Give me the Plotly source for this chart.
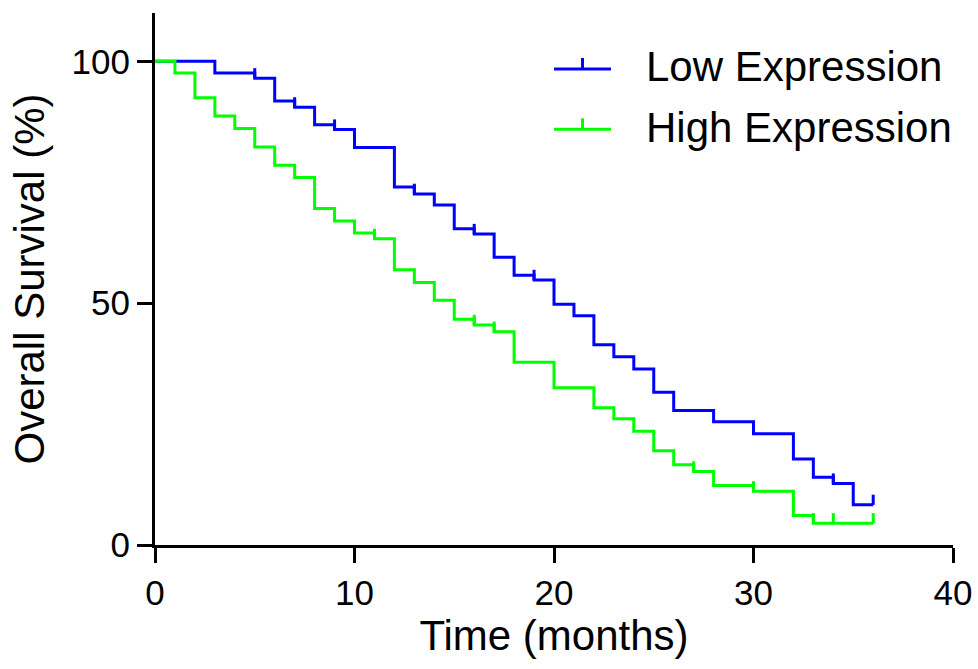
import plotly.graph_objects as go

# ---- data ----
low_times = [0, 3, 5, 6, 7, 8, 9, 10, 12, 13, 14, 15, 16, 17, 18, 19, 20, 21, 22, 23, 24, 25, 26, 28, 30, 32, 33, 34, 35, 36]
low_surv = [100, 97.6, 96.5, 91.8, 90.5, 86.9, 85.9, 82.2, 74.0, 72.6, 70.3, 65.4, 64.3, 59.5, 55.8, 54.8, 49.8, 47.4, 41.4, 38.9, 36.4, 31.6, 27.8, 25.5, 23.0, 17.8, 14.0, 12.7, 8.3, 8.3]
low_censor = [5, 7, 9, 13, 16, 19, 34, 36]

high_times = [0, 1, 2, 3, 4, 5, 6, 7, 8, 9, 10, 11, 12, 13, 14, 15, 16, 17, 18, 20, 22, 23, 24, 25, 26, 27, 28, 30, 32, 33, 36]
high_surv = [100, 97.6, 92.5, 88.7, 86.1, 82.3, 78.5, 76.0, 69.6, 67.0, 64.5, 63.3, 56.9, 54.3, 50.6, 46.7, 45.5, 44.1, 37.8, 32.5, 28.4, 26.1, 23.5, 19.5, 16.6, 15.2, 12.3, 11.1, 6.1, 4.5, 4.5]
high_censor = [11, 16, 17, 27, 30, 33, 34, 36]

series_names = ["Low Expression", "High Expression"]
x_ticks = [0, 10, 20, 30, 40]
y_ticks = [0, 50, 100]

BLUE = "#0000FF"
GREEN = "#00FF00"
FONT = "Arial, 'Liberation Sans', sans-serif"
TICK_H = 2.1  # censor tick height in y units (~10 px)


def step_value(times, surv, t):
    v = surv[0]
    for ti, si in zip(times, surv):
        if ti <= t:
            v = si
    return v


def censor_segments(times, surv, cens):
    xs, ys = [], []
    for c in cens:
        v = step_value(times, surv, c)
        xs += [c, c, None]
        ys += [v, v + TICK_H, None]
    return xs, ys


fig = go.Figure()
for times, surv, cens, col, name in [
    (low_times, low_surv, low_censor, BLUE, series_names[0]),
    (high_times, high_surv, high_censor, GREEN, series_names[1]),
]:
    fig.add_trace(go.Scatter(x=times, y=surv, mode="lines", line=dict(color=col, width=3, shape="hv"),
                             name=name, showlegend=False))
    cx, cy = censor_segments(times, surv, cens)
    fig.add_trace(go.Scatter(x=cx, y=cy, mode="lines", line=dict(color=col, width=3),
                             showlegend=False, hoverinfo="skip"))

# custom legend (line with upward censor tick)
leg = [(series_names[0], BLUE, 0.8947), (series_names[1], GREEN, 0.7814)]
for name, col, yp in leg:
    fig.add_shape(type="line", xref="paper", yref="paper", x0=0.5, x1=0.5714, y0=yp, y1=yp,
                  line=dict(color=col, width=3))
    fig.add_shape(type="line", xref="paper", yref="paper", x0=0.5357, x1=0.5357, y0=yp, y1=yp + 0.0207,
                  line=dict(color=col, width=3))
    fig.add_annotation(text=name, xref="paper", yref="paper", x=0.6128, y=yp + 0.004, xanchor="left",
                       yanchor="middle", showarrow=False, font=dict(family=FONT, size=42, color="black"))

axis_common = dict(showline=True, linewidth=3, linecolor="black", ticks="outside", ticklen=15,
                   tickwidth=3, tickcolor="black", showgrid=False, zeroline=False, automargin=False,
                   tickfont=dict(family=FONT, size=35, color="black"))

fig.update_xaxes(range=[0, 40], tickvals=x_ticks, ticktext=[str(v) for v in x_ticks],
                 title=dict(text="Time (months)", font=dict(family=FONT, size=42, color="black"), standoff=1),
                 **axis_common)
fig.update_yaxes(range=[0, 110], tickvals=y_ticks, ticktext=[str(v) for v in y_ticks],
                 title=dict(text="Overall Survival (%)", font=dict(family=FONT, size=42, color="black"), standoff=14),
                 **axis_common)

fig.update_layout(width=978, height=669, margin=dict(l=155, r=25, t=13, b=124, autoexpand=False),
                  plot_bgcolor="white", paper_bgcolor="white", showlegend=False)

fig.write_html("out.html", config={"displayModeBar": False},
               post_script="document.body.style.margin='0';document.body.style.overflow='hidden';")
